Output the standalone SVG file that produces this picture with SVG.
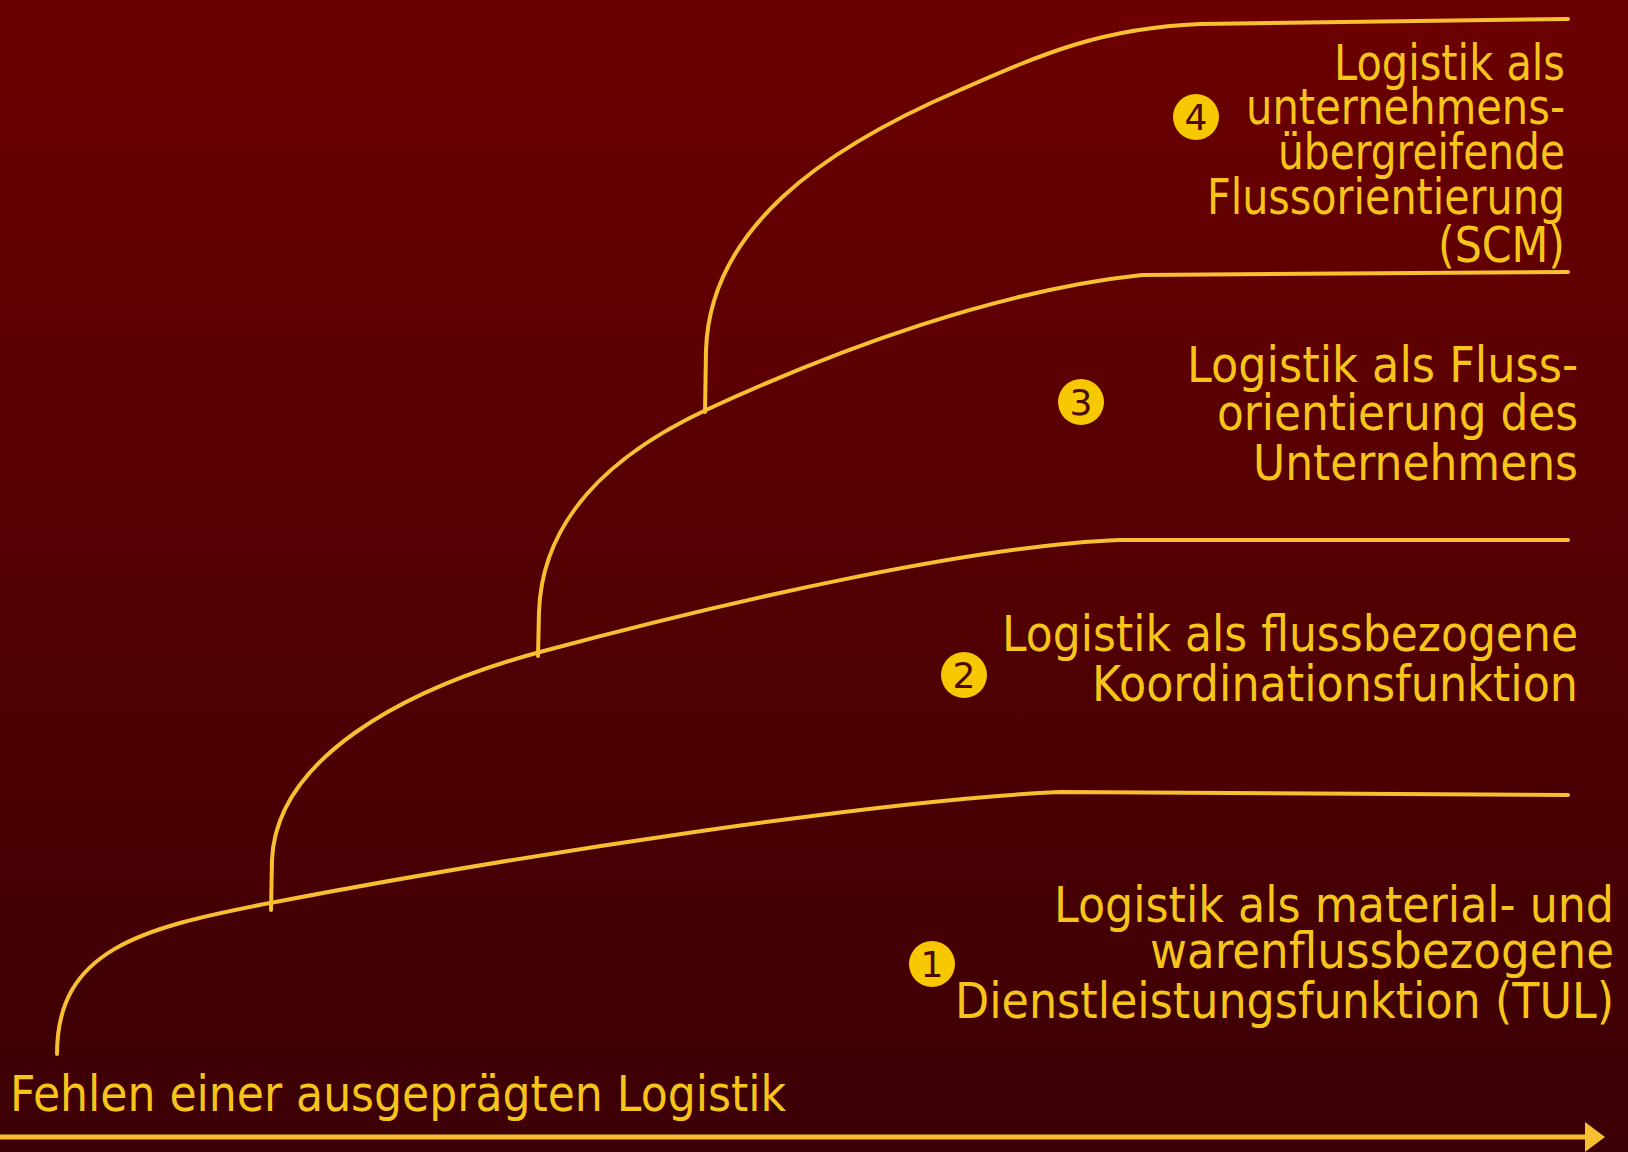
<svg xmlns="http://www.w3.org/2000/svg" width="1628" height="1152" viewBox="0 0 1628 1152">
<defs>
<linearGradient id="bg" x1="0" y1="0" x2="0" y2="1">
<stop offset="0" stop-color="#6c0000"/>
<stop offset="1" stop-color="#3b0005"/>
</linearGradient>
<marker id="arr" markerWidth="6" markerHeight="6" refX="1" refY="3" orient="auto" markerUnits="strokeWidth">
<path d="M0,0 L4,3 L0,6 Z" fill="#f8c030"/>
</marker>
</defs>
<style>
.t{font-family:"DejaVu Sans","Liberation Sans",sans-serif;font-size:50px;fill:#f7c51a;text-anchor:end}
.tl{font-family:"DejaVu Sans","Liberation Sans",sans-serif;font-size:50px;fill:#f7c51a}
.c{fill:none;stroke:#f8c030;stroke-width:4;stroke-linecap:round;stroke-linejoin:round}
.b{fill:#f7c800}
.bn{font-family:"DejaVu Sans","Liberation Sans",sans-serif;font-size:36px;fill:#4a0a00;text-anchor:middle}
</style>
<rect width="1628" height="1152" fill="url(#bg)"/>
<g id="connectors">
<path class="c" d="M57,1054 C57,950 140,928 270,903 C520,855 880,800 1060,792 L1568,795"/>
<path class="c" d="M271,910 L272,860 C276,760 400,690 540,652 C740,598 980,545 1120,540 L1568,540"/>
<path class="c" d="M538,656 L539,612 C542,520 610,455 706,410 C840,348 1000,290 1142,275 L1568,272"/>
<path class="c" d="M705,412 L706,350 C710,230 820,150 960,90 C1040,55 1100,28 1200,24 L1568,19"/>
<line x1="0" y1="1137" x2="1590" y2="1137" stroke="#f8c030" stroke-width="5" marker-end="url(#arr)"/>
</g>
<g id="node-start">
<text class="tl" x="10" y="1111" textLength="776" lengthAdjust="spacingAndGlyphs">Fehlen einer ausgeprägten Logistik</text>
</g>
<g id="node-1">
<circle class="b" cx="932" cy="964" r="23"/>
<text class="bn" x="932" y="977">1</text>
<text class="t" x="1614" y="922" textLength="560" lengthAdjust="spacingAndGlyphs">Logistik als material- und</text>
<text class="t" x="1614" y="968" textLength="464" lengthAdjust="spacingAndGlyphs">warenflussbezogene</text>
<text class="t" x="1614" y="1018" textLength="659" lengthAdjust="spacingAndGlyphs">Dienstleistungsfunktion (TUL)</text>
</g>
<g id="node-2">
<circle class="b" cx="964" cy="675" r="23"/>
<text class="bn" x="964" y="688">2</text>
<text class="t" x="1578" y="651" textLength="576" lengthAdjust="spacingAndGlyphs">Logistik als flussbezogene</text>
<text class="t" x="1578" y="701" textLength="486" lengthAdjust="spacingAndGlyphs">Koordinationsfunktion</text>
</g>
<g id="node-3">
<circle class="b" cx="1081" cy="402" r="23"/>
<text class="bn" x="1081" y="415">3</text>
<text class="t" x="1578" y="382" textLength="391" lengthAdjust="spacingAndGlyphs">Logistik als Fluss-</text>
<text class="t" x="1578" y="430" textLength="361" lengthAdjust="spacingAndGlyphs">orientierung des</text>
<text class="t" x="1578" y="480" textLength="325" lengthAdjust="spacingAndGlyphs">Unternehmens</text>
</g>
<g id="node-4">
<circle class="b" cx="1196" cy="117" r="23"/>
<text class="bn" x="1196" y="130">4</text>
<text class="t" x="1565" y="80" textLength="231" lengthAdjust="spacingAndGlyphs">Logistik als</text>
<text class="t" x="1565" y="124" textLength="319" lengthAdjust="spacingAndGlyphs">unternehmens-</text>
<text class="t" x="1565" y="169" textLength="287" lengthAdjust="spacingAndGlyphs">übergreifende</text>
<text class="t" x="1565" y="214" textLength="358" lengthAdjust="spacingAndGlyphs">Flussorientierung</text>
<text class="t" x="1565" y="262" textLength="127" lengthAdjust="spacingAndGlyphs">(SCM)</text>
</g>
</svg>
